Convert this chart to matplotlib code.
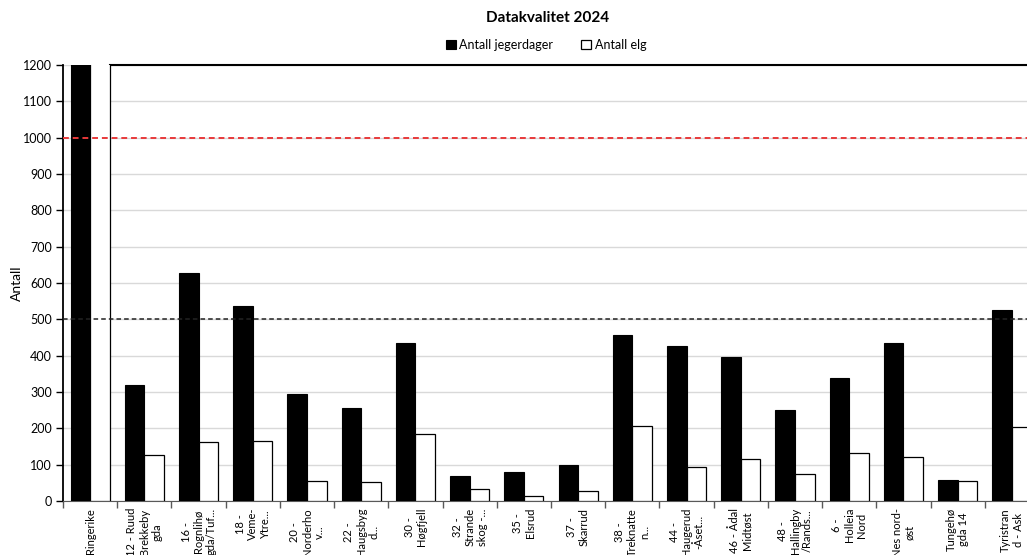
import matplotlib.pyplot as plt
import numpy as np

plt.rcParams['font.family'] = ['Lato', 'DejaVu Sans']

# Data
omraader = ["Ringerike", "12 - Ruud\nBrekkeby\ngda", "16 -\nRognlihø\ngda/Tuf...",
            "18 -\nVeme-\nYtre...", "20 -\nNorderho\nv...", "22 -\nHaugsbyg\nd...",
            "30 -\nHøgfjell", "32 -\nStrande\nskog -...", "35 -\nElsrud",
            "37 -\nSkarrud", "38 -\nTreknatte\nn...", "44 -\nHaugerud\n-Åset...",
            "46 - Ådal\nMidtøst", "48 -\nHallingby\n/Rands...", "6 -\nHolleia\nNord",
            "Nes nord-\nøst", "Tungehø\ngda 14", "Tyristran\nd - Ask"]
jegerdager = [2600, 320, 628, 537, 294, 256, 435, 69, 80, 99, 457, 427, 396, 250, 339, 434, 58, 527]
elg = [1300, 127, 162, 165, 55, 53, 184, 33, 14, 27, 206, 94, 116, 74, 132, 121, 55, 204]
grense_rod = 1000
grense_svart = 500

fig = plt.figure(figsize=(10.27, 5.55), dpi=100)
# axes runs past the right edge, the original picture is cut there
ax = fig.add_axes([63/1027, 1 - 501/555, 976/1027, 436/555])

x = np.arange(len(omraader))
w = 0.36
ax.bar(x - w/2, jegerdager, w, color='black', edgecolor='black', linewidth=0.8,
       label='Antall jegerdager', zorder=3)
ax.bar(x + w/2, elg, w, color='white', edgecolor='black', linewidth=0.9,
       label='Antall elg', zorder=3)

ax.axhline(grense_rod, color='#e8393a', linestyle=(0, (3, 2)), linewidth=1.4, zorder=4)
ax.axhline(grense_svart, color='#222222', linestyle=(0, (3, 2)), linewidth=1.1, zorder=4)

ax.set_ylim(0, 1200)
ax.set_xlim(-0.5, len(omraader) - 0.5)
ax.set_yticks(np.arange(0, 1201, 100))
ax.yaxis.grid(True, color='#d9d9d9', linewidth=1, zorder=0)
ax.set_axisbelow(True)

ax.set_xticks(x)
ax.set_xticklabels(omraader, rotation=90, ha='center', va='top', multialignment='center',
                   fontsize=8, color='black', linespacing=1.15)
ax.set_xticks(np.arange(-0.5, len(omraader)), minor=True)
ax.tick_params(axis='x', which='major', length=0, pad=5)
ax.tick_params(axis='x', which='minor', length=5, color='#595959', width=1)
ax.tick_params(axis='y', length=5, color='black', width=1, labelsize=9, labelcolor='black', pad=3)

ax.spines['right'].set_visible(False)
ax.spines['top'].set_bounds(w, len(omraader) - 0.5)
ax.spines['top'].set_linewidth(1.5)
ax.spines['left'].set_linewidth(1.3)
ax.spines['bottom'].set_color('#595959')

ax.set_ylabel('Antall', fontsize=10)
ax.yaxis.set_label_coords(-0.041, 0.5)

fig.text(548/1027, 1 - 18/555, 'Datakvalitet 2024', ha='center', va='center',
         fontsize=11, fontweight='bold')
fig.legend(loc='center', bbox_to_anchor=(546/1027, 1 - 45/555), ncol=2, frameon=False,
           fontsize=9, handlelength=0.8, handleheight=0.8, handletextpad=0.3,
           columnspacing=2.2)

fig.savefig('out.png', dpi=100)
